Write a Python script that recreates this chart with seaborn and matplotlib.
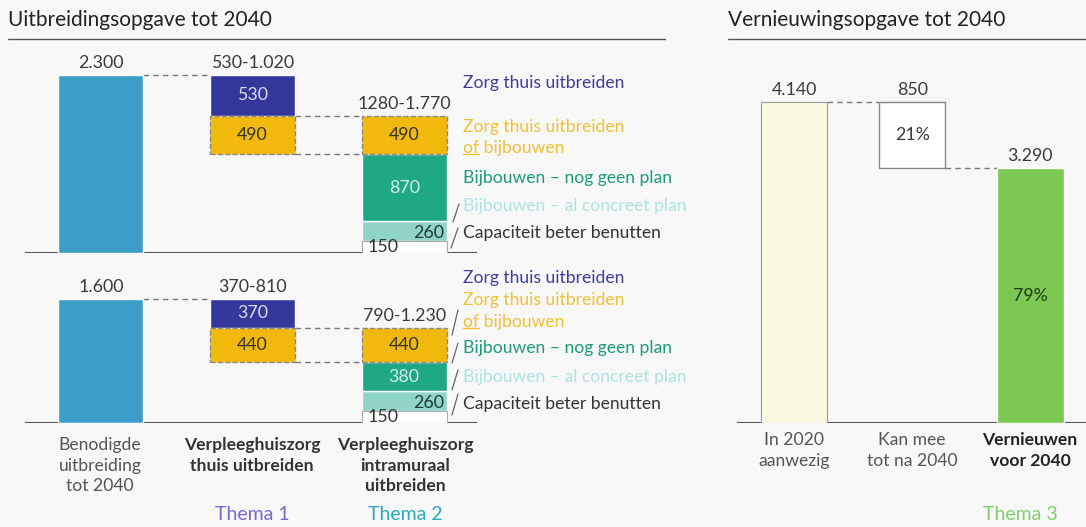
import matplotlib.pyplot as plt
import seaborn as sns
from matplotlib.lines import Line2D

sns.set_theme(style="white")
plt.rcParams['font.family'] = ['Lato', 'DejaVu Sans']

# data - uitbreiding (top row / bottom row)
needed = [2300, 1600]
needed_lbl = ["2.300", "1.600"]
thuis = [530, 370]              # zorg thuis uitbreiden
thuis_of_bouw = [490, 440]      # zorg thuis uitbreiden of bijbouwen
bouw_geen_plan = [870, 380]
bouw_concreet = [260, 260]
capaciteit = [150, 150]
range_thuis = ["530-1.020", "370-810"]
range_intra = ["1280-1.770", "790-1.230"]
left_names = ["Benodigde\nuitbreiding\ntot 2040",
              "Verpleeghuiszorg\nthuis uitbreiden",
              "Verpleeghuiszorg\nintramuraal\nuitbreiden"]
themes = ["Thema 1", "Thema 2", "Thema 3"]

# data - vernieuwing
renew_names = ["In 2020\naanwezig", "Kan mee\ntot na 2040", "Vernieuwen\nvoor 2040"]
renew_vals = [4140, 850, 3290]
renew_lbl = ["4.140", "850", "3.290"]
renew_pct = ["21%", "79%"]

BLUE = "#3c9dc8"
PURPLE = "#35379a"
YELLOW = "#f2b90d"
GREEN = "#1fa886"
LTEAL = "#8fd4c6"
CREAM = "#fafae3"
LGREEN = "#7dc853"
BG = "#f8f8f8"
TXT = "#3a3a3a"
FS = 12.8   # value labels
LFS = 12.6  # legend / category labels

W, H = 1086, 527
fig = plt.figure(figsize=(W / 100, H / 100), dpi=100, facecolor=BG)


def px(x, y):
    return x / W, 1 - y / H


def ftext(x, y, s, **kw):
    kw.setdefault("color", TXT)
    kw.setdefault("ha", "center")
    kw.setdefault("va", "center")
    return fig.text(*px(x, y), s, **kw)


def fline(x0, y0, x1, y1, **kw):
    kw.setdefault("color", "#666666")
    kw.setdefault("lw", 0.9)
    fig.add_artist(Line2D([x0 / W, x1 / W], [1 - y0 / H, 1 - y1 / H],
                          transform=fig.transFigure, **kw))


def dash(ax, x0, x1, y):
    ax.plot([x0, x1], [y, y], ls=(0, (4, 3)), color="#777777", lw=1, zorder=1)


def top_label(ax, x, y, s):
    ax.annotate(s, (x, y), xytext=(0, 4), textcoords="offset pixels",
                ha="center", va="bottom", fontsize=FS, color=TXT)


# ---- left: two waterfalls ----
w = 0.56
scale = 0.0775  # px per unit
for i, base_y in enumerate([253, 423]):
    ymax = needed[i] + 120
    ax = fig.add_axes([25 / W, (H - base_y) / H, 452 / W, ymax * scale / H])
    sns.barplot(x=[0], y=[needed[i]], native_scale=True, width=w, color=BLUE,
                saturation=1, ax=ax, zorder=2)

    top1 = needed[i] - thuis[i]
    top2 = top1 - thuis_of_bouw[i]
    ax.bar(1, thuis[i], bottom=top1, width=w, color=PURPLE, zorder=2)
    ax.bar(1, thuis_of_bouw[i], bottom=top2, width=w, color=YELLOW,
           edgecolor="#8a8a8a", ls="--", lw=1, zorder=2)

    b = 0
    ax.bar(2, capaciteit[i], bottom=b, width=w, color="white",
           edgecolor="#aaaaaa", lw=0.8, zorder=3)
    b += capaciteit[i]
    ax.bar(2, bouw_concreet[i], bottom=b, width=w, color=LTEAL, zorder=2)
    b += bouw_concreet[i]
    ax.bar(2, bouw_geen_plan[i], bottom=b, width=w, color=GREEN, zorder=2)
    b += bouw_geen_plan[i]
    ax.bar(2, thuis_of_bouw[i], bottom=b, width=w, color=YELLOW,
           edgecolor="#8a8a8a", ls="--", lw=1, zorder=2)

    ax.axhline(0, color="#555555", lw=1.5, zorder=1)
    dash(ax, w / 2, 1 - w / 2, needed[i])
    dash(ax, 1 + w / 2, 2 - w / 2, top1)
    dash(ax, 1 + w / 2, 2 - w / 2, top2)

    top_label(ax, 0, needed[i], needed_lbl[i])
    top_label(ax, 1, needed[i], range_thuis[i])
    top_label(ax, 2, top1, range_intra[i])

    ax.text(1, top1 + thuis[i] / 2, str(thuis[i]), ha="center", va="center",
            fontsize=FS, color="#dcdcf0", zorder=4)
    ax.text(1, top2 + thuis_of_bouw[i] / 2, str(thuis_of_bouw[i]), ha="center",
            va="center", fontsize=FS, color="#333333", zorder=4)
    ax.text(2, top2 + thuis_of_bouw[i] / 2, str(thuis_of_bouw[i]), ha="center",
            va="center", fontsize=FS, color="#333333", zorder=4)
    ax.text(2, capaciteit[i] + bouw_concreet[i] + bouw_geen_plan[i] / 2,
            str(bouw_geen_plan[i]), ha="center", va="center", fontsize=FS,
            color="#d4f0e8", zorder=4)
    ax.text(2 + w / 2 - 0.02, capaciteit[i] + bouw_concreet[i] * 0.42,
            str(bouw_concreet[i]), ha="right", va="center", fontsize=FS,
            color="#1d3a34", zorder=4)
    ax.text(1.86, capaciteit[i] * 0.5, str(capaciteit[i]), ha="center",
            va="center", fontsize=FS, color="#333333", zorder=4)

    ax.set_xlim(-0.5, 2.48)
    ax.set_ylim(0, ymax)
    ax.axis("off")

# legend texts
leg_x = 463
for ys in ([83, 127, 148, 178, 206, 233], [278, 300, 322, 348, 377, 404]):
    ftext(leg_x, ys[0], "Zorg thuis uitbreiden", ha="left", fontsize=LFS, color="#3d3d9e")
    ftext(leg_x, ys[1], "Zorg thuis uitbreiden", ha="left", fontsize=LFS, color="#f1c232")
    ftext(leg_x, ys[2], "of bijbouwen", ha="left", fontsize=LFS, color="#f1c232")
    # measure "of" to underline it
    t_of = ftext(leg_x, ys[2], "of", ha="left", fontsize=LFS, color="#f1c232")
    fig.canvas.draw()
    bb = t_of.get_window_extent()
    t_of.remove()
    fig.add_artist(Line2D([bb.x0 / W, bb.x1 / W], [(bb.y0 + 2) / H] * 2,
                          transform=fig.transFigure, color="#f1c232", lw=1))
    ftext(leg_x, ys[3], "Bijbouwen \u2013 nog geen plan", ha="left", fontsize=LFS, color="#1c9a7a")
    ftext(leg_x, ys[4], "Bijbouwen \u2013 al concreet plan", ha="left", fontsize=LFS, color="#aee3e3")
    ftext(leg_x, ys[5], "Capaciteit beter benutten", ha="left", fontsize=LFS, color="#333333")

# leader slashes
fline(459, 204, 453, 222)
fline(458, 228, 451, 248)
fline(458, 310, 452, 335)
fline(458, 343, 452, 363)
fline(458, 370, 452, 390)
fline(458, 394, 452, 415)

# ---- right: vernieuwing ----
ax = fig.add_axes([737 / W, 104 / H, 349 / W, 4300 * scale / H])
# native width here is 2 (x = 0 and 2), so halve the width
sns.barplot(x=[0, 2], y=[renew_vals[0], renew_vals[2]], hue=[0, 2],
            palette=[CREAM, LGREEN], native_scale=True, width=w / 2,
            saturation=1, legend=False, ax=ax, zorder=2)
ax.patches[0].set_edgecolor("#9a9a9a")
ax.patches[0].set_linewidth(0.8)
ax.bar(1, renew_vals[1], bottom=renew_vals[2], width=w, color="white",
       edgecolor="#888888", lw=1, zorder=2)
ax.axhline(0, color="#555555", lw=1.5, zorder=1)
dash(ax, w / 2, 1 - w / 2, renew_vals[0])
dash(ax, 1 + w / 2, 2 - w / 2, renew_vals[2])
top_label(ax, 0, renew_vals[0], renew_lbl[0])
top_label(ax, 1, renew_vals[0], renew_lbl[1])
top_label(ax, 2, renew_vals[2], renew_lbl[2])
ax.text(1, renew_vals[2] + renew_vals[1] / 2, renew_pct[0], ha="center",
        va="center", fontsize=FS, color=TXT)
ax.text(2, renew_vals[2] / 2, renew_pct[1], ha="center", va="center",
        fontsize=FS, color="#1e3a12")
ax.set_xlim(-0.483, 2.47)
ax.set_ylim(0, 4300)
ax.axis("off")

# titles
ftext(8, 20, "Uitbreidingsopgave tot 2040", ha="left", fontsize=15, color="#222222")
ftext(728, 20, "Vernieuwingsopgave tot 2040", ha="left", fontsize=15, color="#222222")
fline(8, 39, 665, 39, color="#555555", lw=1)
fline(728, 39, 1086, 39, color="#555555", lw=1)

# category labels
for x, s, bold in zip([100, 252, 405], left_names, [False, True, True]):
    ftext(x, 437, s, va="top", fontsize=LFS, linespacing=1.35,
          fontweight="bold" if bold else "normal",
          color="#333333" if bold else "#555555")
for x, s, bold in zip([794, 912, 1030], renew_names, [False, False, True]):
    ftext(x, 432, s, va="top", fontsize=LFS, linespacing=1.35,
          fontweight="bold" if bold else "normal",
          color="#222222" if bold else "#555555")

ftext(252, 515, themes[0], fontsize=14, color="#7b68cf")
ftext(405, 515, themes[1], fontsize=14, color="#2aabb8")
ftext(1020, 515, themes[2], fontsize=14, color="#80cf6a")

fig.savefig("out.png", dpi=100, facecolor=BG)
